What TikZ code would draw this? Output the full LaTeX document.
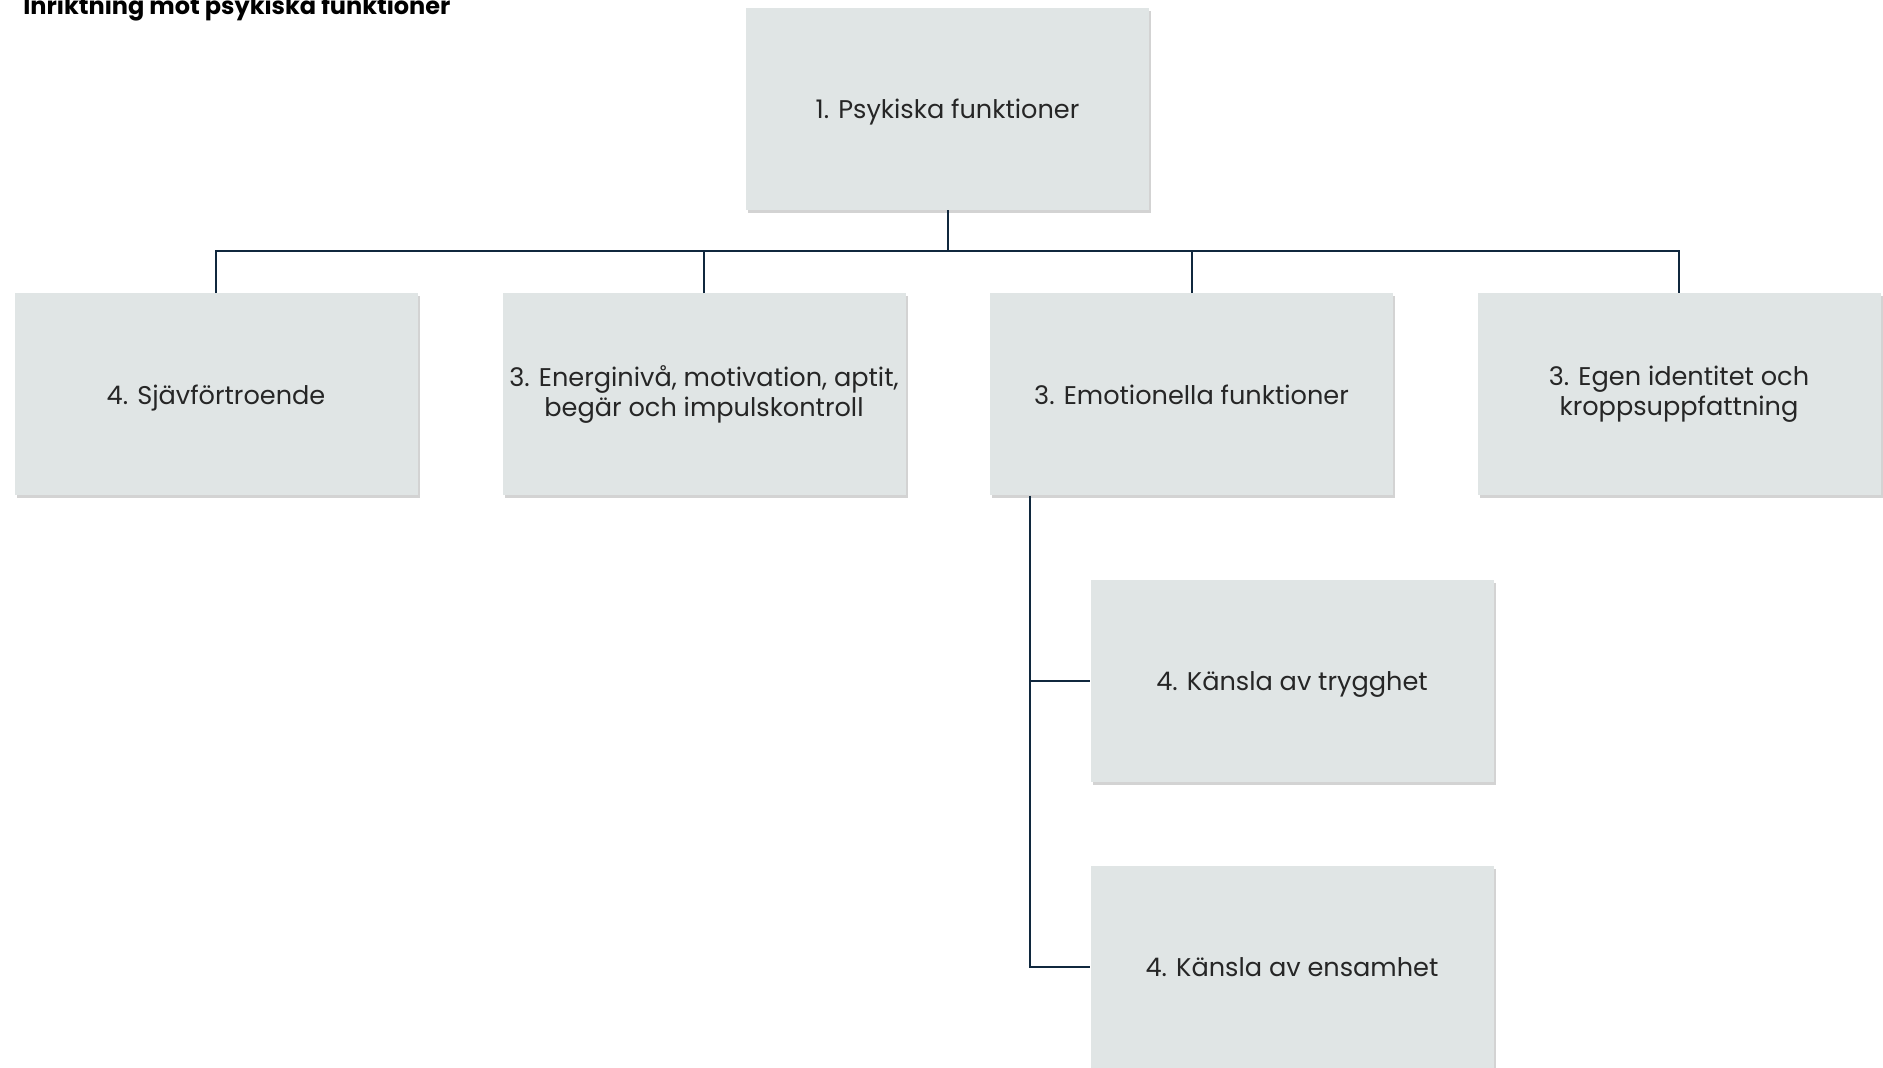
\documentclass[tikz,border=0pt]{standalone}
\usepackage{fontspec}
\setmainfont{Poppins}
\usetikzlibrary{shadows}
\definecolor{boxfill}{RGB}{224,229,229}
\definecolor{linenavy}{RGB}{16,40,62}

\begin{document}
\begin{tikzpicture}[x=0.5pt,y=-0.5pt,
	func_node/.style={rectangle,fill=boxfill,minimum width=201.5pt,minimum height=101pt,inner sep=2pt,align=center,text=black!85,font=\fontsize{12.8}{15}\selectfont,drop shadow={opacity=0.35,shadow xshift=1pt,shadow yshift=-1.5pt}},
	one_line/.style={text depth=0pt},
	link/.style={draw=linenavy,line width=1pt}]
	\useasboundingbox (0,0) rectangle (1883,1068);
	\node[anchor=base west,inner sep=0pt,font=\bfseries\fontsize{12}{14}\selectfont] (title) at (23,15) {Inriktning mot psykiska funktioner};
	\node[func_node,one_line] (psyk) at (947.5,109) {1. Psykiska funktioner};
	\node[func_node,one_line] (self) at (216,394.5) {4. Sjävförtroende};
	\node[func_node] (energi) at (704,394.5) {3. Energinivå, motivation, aptit,\\begär och impulskontroll};
	\node[func_node,one_line] (emo) at (1191.5,394.5) {3. Emotionella funktioner};
	\node[func_node] (ident) at (1679,394.5) {3. Egen identitet och\\kroppsuppfattning};
	\node[func_node,one_line] (trygg) at (1292,681) {4. Känsla av trygghet};
	\node[func_node,one_line] (ensam) at (1292,967) {4. Känsla av ensamhet};
	\coordinate (bus) at (947.5,251);

	\draw[link] (psyk.south) -- (bus);
	\draw[link] (self.north) |- (bus) -| (ident.north);
	\draw[link] (energi.north) -- (energi.north |- bus);
	\draw[link] (emo.north) -- (emo.north |- bus);
	\draw[link] ([xshift=20.25pt]emo.south west) |- (trygg.west);
	\draw[link] ([xshift=20.25pt]emo.south west) |- (ensam.west);
\end{tikzpicture}
\end{document}
